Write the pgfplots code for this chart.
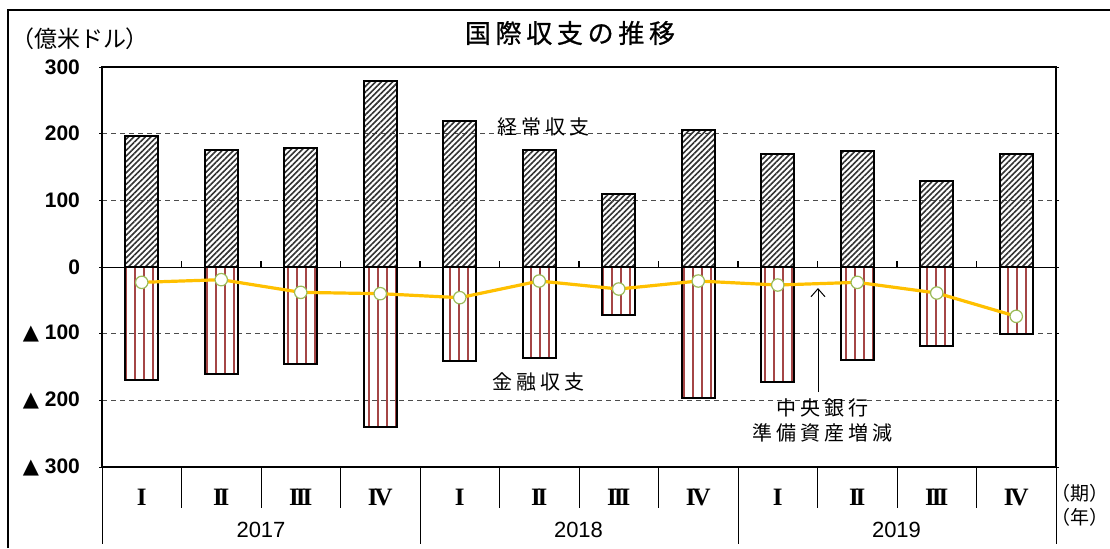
\documentclass[border=0pt]{standalone}
\usepackage{pgfplots}
\pgfplotsset{compat=1.18}
\usetikzlibrary{patterns.meta,arrows.meta}
\usepackage{fontspec}
\setmainfont{Liberation Sans}
\newfontfamily\jp{Noto Sans CJK JP}
\newfontfamily\jpT[LetterSpace=18,FakeBold=0.8]{Noto Sans CJK JP}
\newfontfamily\jpL[LetterSpace=20]{Noto Sans CJK JP}
\newfontfamily\dv{DejaVu Sans}
\newfontfamily\rmser{Liberation Serif}
\newcommand{\tri}{{\dv ▲}}
\definecolor{fared}{RGB}{165,70,70}
\definecolor{gold}{RGB}{255,192,0}
\definecolor{mkgreen}{RGB}{155,187,89}
\begin{document}
\begin{tikzpicture}
\path[use as bounding box] (0,0) rectangle (555pt,-274pt);
\draw[line width=0.8pt] (4pt,-274pt) -- (4pt,-5pt) -- (555pt,-5pt);
\begin{axis}[
  at={(51pt,-233.5pt)}, anchor=south west,
  scale only axis, width=477pt, height=200pt,
  xmin=-0.5, xmax=11.5, ymin=-300, ymax=300,
  clip=false,
  axis line style={line width=1.4pt},
  ytick={-300,-200,-100,0,100,200,300},
  yticklabels={{\tri\ 300},{\tri\ 200},{\tri\ 100},0,100,200,300},
  yticklabel style={font=\bfseries\fontsize{10.5}{12}\selectfont, anchor=east, xshift=-6pt},
  ytick style={line width=0.5pt, black},
  tick align=outside, major tick length=1.5pt,
  xtick={0,...,11},
  xticklabels={I,I\kern-0.12emI,I\kern-0.12emI\kern-0.12emI,I\kern-0.12emV,I,I\kern-0.12emI,I\kern-0.12emI\kern-0.12emI,I\kern-0.12emV,I,I\kern-0.12emI,I\kern-0.12emI\kern-0.12emI,I\kern-0.12emV},
  xticklabel style={font=\rmser\bfseries\fontsize{12.5}{13}\selectfont, anchor=center, yshift=-13.5pt},
  xtick style={draw=none},
  ymajorgrids,
  major grid style={line width=0.5pt, gray!60!black, dash pattern=on 2.5pt off 2pt},
]
\draw[black, line width=0.5pt] (axis cs:-0.5,0) -- (axis cs:11.5,0);
\pgfplotsinvokeforeach{0.5,1.5,2.5,3.5,4.5,5.5,6.5,7.5,8.5,9.5,10.5}{
  \draw[black, line width=0.6pt] (axis cs:#1,0) -- (axis cs:#1,9);
}
\addplot[ybar, bar width=16.3pt, bar shift=0pt, draw=black, line width=1pt,
  pattern={Lines[angle=45,distance=2pt,line width=0.8pt]}, pattern color=black!80]
  coordinates {(0,197) (1,175) (2,179) (3,279) (4,219) (5,175) (6,109) (7,205) (8,170) (9,174) (10,129) (11,170)};
\addplot[ybar, bar width=16.3pt, bar shift=0pt, draw=black, line width=1pt,
  pattern={Lines[angle=90,distance=4.5pt,line width=1pt]}, pattern color=fared]
  coordinates {(0,-169) (1,-160) (2,-145) (3,-240) (4,-141) (5,-137) (6,-72) (7,-196) (8,-172) (9,-139) (10,-119) (11,-100)};
\addplot[gold, line width=1.6pt, mark=*, mark size=3.1pt,
  mark options={fill=white, draw=mkgreen, line width=0.6pt}]
  coordinates {(0,-23) (1,-19) (2,-38) (3,-40) (4,-46) (5,-21) (6,-33) (7,-21) (8,-27) (9,-23) (10,-39) (11,-74)};
\end{axis}
% separators below axis
\foreach \k in {1,2,3,5,6,7,9,10,11} {
  \draw[line width=0.5pt] ({(102+79.5*\k)*0.5pt},-233.5pt) -- ({(102+79.5*\k)*0.5pt},-254pt);
}
\foreach \k in {0,4,8,12} {
  \draw[line width=0.5pt] ({(102+79.5*\k)*0.5pt},-233.5pt) -- ({(102+79.5*\k)*0.5pt},-272pt);
}
\node[font=\fontsize{11}{12}\selectfont] at (130.5pt,-265pt) {2017};
\node[font=\fontsize{11}{12}\selectfont] at (289.25pt,-265pt) {2018};
\node[font=\fontsize{11}{12}\selectfont] at (448.25pt,-265pt) {2019};
\node[font=\jp\fontsize{9.5}{10}\selectfont] at (540pt,-246.5pt) {（期）};
\node[font=\jp\fontsize{9.5}{10}\selectfont] at (540pt,-258.5pt) {（年）};
% titles
\node[font=\jpT\fontsize{13}{14}\selectfont] at (285pt,-16.5pt) {国際収支の推移};
\node[font=\jp\fontsize{11.5}{13}\selectfont] at (40pt,-19.5pt) {（億米ドル）};
\node[font=\jpL\fontsize{10}{12}\selectfont] at (271.5pt,-63.5pt) {経常収支};
\node[font=\jpL\fontsize{10}{12}\selectfont] at (269pt,-191pt) {金融収支};
\node[font=\jpL\fontsize{10}{12}\selectfont] at (411pt,-204pt) {中央銀行};
\node[font=\jpL\fontsize{10}{12}\selectfont] at (411pt,-216.5pt) {準備資産増減};
\draw[line width=0.5pt, -{Straight Barb[length=4pt,width=7pt]}] (409pt,-196pt) -- (409pt,-144pt);
\end{tikzpicture}
\end{document}
